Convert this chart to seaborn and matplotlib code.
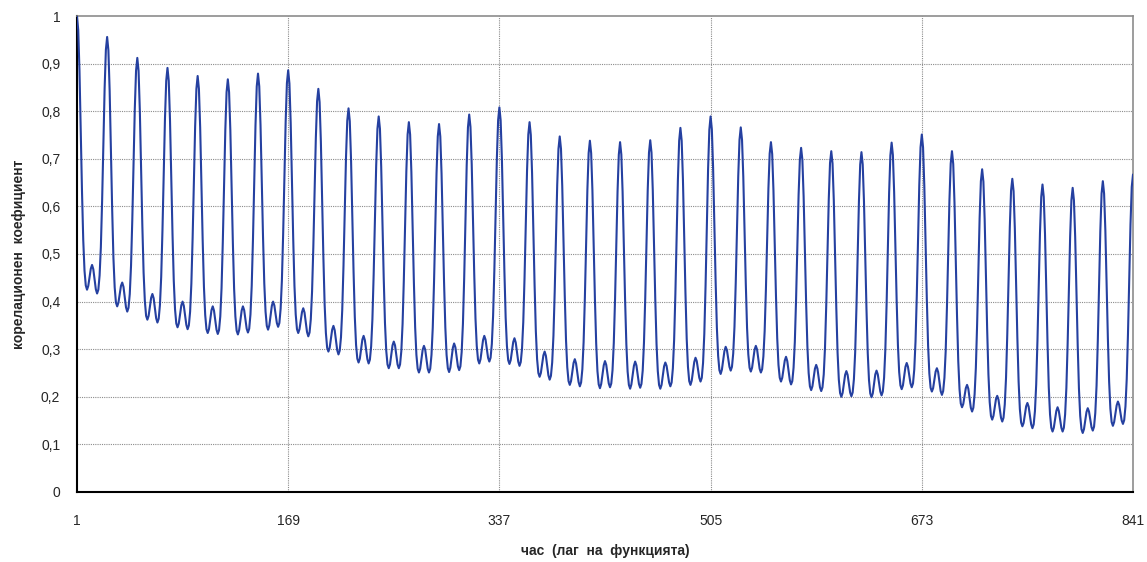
import numpy as np
import pandas as pd
import matplotlib
matplotlib.use("Agg")
import matplotlib.pyplot as plt
import seaborn as sns

# hourly autocorrelation values, one list per week (7 x 24 lags)
week1 = [
    1.000, 0.971, 0.885, 0.759, 0.632, 0.529, 0.465, 0.434, 0.425, 0.433, 0.451, 0.469,
    0.477, 0.468, 0.447, 0.426, 0.417, 0.425, 0.455, 0.514, 0.611, 0.730, 0.848, 0.929,
    0.956, 0.928, 0.843, 0.718, 0.594, 0.492, 0.430, 0.398, 0.390, 0.398, 0.415, 0.433,
    0.440, 0.431, 0.410, 0.388, 0.379, 0.387, 0.416, 0.475, 0.571, 0.688, 0.805, 0.885,
    0.912, 0.885, 0.802, 0.681, 0.560, 0.461, 0.401, 0.370, 0.362, 0.370, 0.389, 0.408,
    0.416, 0.407, 0.386, 0.365, 0.356, 0.364, 0.393, 0.452, 0.549, 0.666, 0.784, 0.864,
    0.891, 0.864, 0.782, 0.662, 0.542, 0.444, 0.384, 0.354, 0.346, 0.354, 0.373, 0.392,
    0.400, 0.391, 0.371, 0.351, 0.342, 0.350, 0.379, 0.438, 0.534, 0.651, 0.768, 0.847,
    0.874, 0.847, 0.766, 0.647, 0.528, 0.431, 0.372, 0.342, 0.334, 0.342, 0.362, 0.382,
    0.390, 0.381, 0.361, 0.341, 0.332, 0.340, 0.369, 0.428, 0.525, 0.642, 0.760, 0.840,
    0.867, 0.840, 0.760, 0.642, 0.524, 0.427, 0.369, 0.339, 0.331, 0.340, 0.361, 0.381,
    0.390, 0.382, 0.363, 0.343, 0.335, 0.343, 0.373, 0.433, 0.531, 0.651, 0.770, 0.852,
    0.879, 0.852, 0.771, 0.653, 0.535, 0.438, 0.379, 0.349, 0.341, 0.350, 0.371, 0.391,
    0.400, 0.392, 0.374, 0.355, 0.347, 0.355, 0.385, 0.444, 0.541, 0.660, 0.778, 0.859,
]
week2 = [
    0.886, 0.858, 0.776, 0.654, 0.533, 0.433, 0.373, 0.342, 0.334, 0.342, 0.360, 0.378,
    0.386, 0.377, 0.357, 0.336, 0.327, 0.335, 0.363, 0.421, 0.514, 0.629, 0.743, 0.821,
    0.847, 0.819, 0.737, 0.615, 0.494, 0.394, 0.334, 0.303, 0.295, 0.303, 0.322, 0.341,
    0.349, 0.340, 0.319, 0.298, 0.289, 0.297, 0.325, 0.382, 0.475, 0.589, 0.703, 0.780,
    0.806, 0.779, 0.699, 0.582, 0.464, 0.368, 0.309, 0.280, 0.272, 0.280, 0.300, 0.320,
    0.328, 0.319, 0.299, 0.279, 0.270, 0.278, 0.306, 0.363, 0.457, 0.571, 0.685, 0.763,
    0.789, 0.763, 0.683, 0.567, 0.450, 0.355, 0.297, 0.268, 0.260, 0.268, 0.288, 0.308,
    0.316, 0.308, 0.288, 0.268, 0.260, 0.268, 0.296, 0.353, 0.446, 0.560, 0.674, 0.751,
    0.777, 0.751, 0.672, 0.556, 0.440, 0.346, 0.288, 0.259, 0.251, 0.259, 0.279, 0.299,
    0.307, 0.299, 0.279, 0.259, 0.251, 0.259, 0.288, 0.345, 0.439, 0.554, 0.669, 0.747,
    0.773, 0.747, 0.669, 0.554, 0.440, 0.346, 0.288, 0.260, 0.252, 0.261, 0.282, 0.303,
    0.312, 0.304, 0.284, 0.264, 0.256, 0.264, 0.294, 0.353, 0.449, 0.567, 0.686, 0.766,
    0.793, 0.767, 0.688, 0.573, 0.458, 0.364, 0.307, 0.278, 0.270, 0.279, 0.299, 0.319,
    0.328, 0.320, 0.301, 0.282, 0.274, 0.282, 0.311, 0.370, 0.466, 0.584, 0.701, 0.781,
]
week3 = [
    0.808, 0.781, 0.700, 0.582, 0.463, 0.366, 0.307, 0.277, 0.269, 0.277, 0.296, 0.315,
    0.323, 0.314, 0.294, 0.274, 0.265, 0.273, 0.301, 0.357, 0.449, 0.562, 0.675, 0.751,
    0.777, 0.750, 0.670, 0.552, 0.435, 0.338, 0.279, 0.250, 0.242, 0.250, 0.269, 0.287,
    0.295, 0.286, 0.266, 0.245, 0.236, 0.244, 0.272, 0.328, 0.420, 0.532, 0.645, 0.721,
    0.747, 0.721, 0.643, 0.528, 0.413, 0.319, 0.262, 0.233, 0.225, 0.233, 0.252, 0.271,
    0.279, 0.270, 0.251, 0.231, 0.222, 0.230, 0.258, 0.315, 0.408, 0.521, 0.635, 0.712,
    0.738, 0.712, 0.634, 0.520, 0.405, 0.312, 0.254, 0.226, 0.218, 0.227, 0.247, 0.266,
    0.275, 0.267, 0.248, 0.228, 0.220, 0.228, 0.256, 0.313, 0.405, 0.519, 0.632, 0.709,
    0.735, 0.709, 0.631, 0.517, 0.403, 0.310, 0.253, 0.225, 0.217, 0.226, 0.246, 0.265,
    0.274, 0.266, 0.247, 0.227, 0.219, 0.227, 0.255, 0.313, 0.406, 0.521, 0.635, 0.713,
    0.739, 0.713, 0.635, 0.520, 0.405, 0.311, 0.254, 0.225, 0.217, 0.225, 0.245, 0.264,
    0.272, 0.265, 0.247, 0.230, 0.222, 0.230, 0.260, 0.320, 0.417, 0.537, 0.656, 0.738,
    0.765, 0.738, 0.657, 0.538, 0.419, 0.322, 0.263, 0.233, 0.225, 0.234, 0.254, 0.273,
    0.282, 0.275, 0.257, 0.240, 0.232, 0.240, 0.271, 0.332, 0.433, 0.555, 0.678, 0.761,
]
week4 = [
    0.789, 0.762, 0.681, 0.562, 0.443, 0.345, 0.286, 0.256, 0.248, 0.257, 0.277, 0.296,
    0.305, 0.298, 0.280, 0.263, 0.255, 0.263, 0.291, 0.347, 0.439, 0.551, 0.664, 0.740,
    0.766, 0.740, 0.663, 0.551, 0.438, 0.345, 0.289, 0.261, 0.253, 0.261, 0.280, 0.299,
    0.307, 0.299, 0.279, 0.259, 0.251, 0.258, 0.285, 0.338, 0.425, 0.532, 0.638, 0.711,
    0.735, 0.710, 0.634, 0.524, 0.413, 0.323, 0.267, 0.240, 0.232, 0.240, 0.258, 0.276,
    0.284, 0.275, 0.255, 0.235, 0.226, 0.233, 0.261, 0.315, 0.405, 0.514, 0.624, 0.698,
    0.723, 0.698, 0.621, 0.509, 0.397, 0.306, 0.250, 0.222, 0.214, 0.222, 0.241, 0.259,
    0.267, 0.259, 0.240, 0.220, 0.212, 0.220, 0.247, 0.303, 0.393, 0.504, 0.615, 0.691,
    0.716, 0.690, 0.613, 0.499, 0.386, 0.293, 0.236, 0.208, 0.200, 0.208, 0.227, 0.246,
    0.254, 0.246, 0.228, 0.209, 0.201, 0.209, 0.237, 0.293, 0.386, 0.499, 0.611, 0.688,
    0.714, 0.688, 0.611, 0.498, 0.384, 0.292, 0.235, 0.207, 0.199, 0.207, 0.227, 0.247,
    0.255, 0.247, 0.229, 0.211, 0.203, 0.211, 0.240, 0.299, 0.394, 0.511, 0.628, 0.707,
    0.734, 0.708, 0.630, 0.516, 0.402, 0.309, 0.252, 0.224, 0.216, 0.224, 0.244, 0.263,
    0.271, 0.263, 0.246, 0.228, 0.220, 0.228, 0.257, 0.316, 0.411, 0.528, 0.645, 0.724,
]
week5 = [
    0.751, 0.724, 0.643, 0.524, 0.405, 0.308, 0.249, 0.219, 0.211, 0.218, 0.236, 0.253,
    0.260, 0.252, 0.232, 0.212, 0.204, 0.212, 0.240, 0.296, 0.388, 0.501, 0.614, 0.690,
    0.716, 0.689, 0.608, 0.490, 0.372, 0.275, 0.216, 0.186, 0.178, 0.185, 0.202, 0.218,
    0.225, 0.217, 0.197, 0.177, 0.169, 0.177, 0.205, 0.261, 0.352, 0.464, 0.576, 0.653,
    0.678, 0.652, 0.573, 0.457, 0.341, 0.247, 0.189, 0.160, 0.152, 0.160, 0.177, 0.195,
    0.202, 0.194, 0.175, 0.156, 0.148, 0.156, 0.184, 0.240, 0.332, 0.444, 0.556, 0.633,
    0.658, 0.632, 0.554, 0.440, 0.325, 0.232, 0.174, 0.146, 0.138, 0.145, 0.163, 0.180,
    0.187, 0.179, 0.161, 0.142, 0.134, 0.142, 0.170, 0.226, 0.318, 0.431, 0.544, 0.620,
    0.646, 0.620, 0.542, 0.428, 0.314, 0.220, 0.163, 0.135, 0.127, 0.135, 0.153, 0.170,
    0.178, 0.170, 0.153, 0.135, 0.127, 0.135, 0.163, 0.219, 0.311, 0.424, 0.537, 0.613,
    0.639, 0.613, 0.536, 0.423, 0.309, 0.217, 0.160, 0.132, 0.124, 0.132, 0.150, 0.168,
    0.176, 0.169, 0.153, 0.136, 0.129, 0.137, 0.166, 0.223, 0.318, 0.433, 0.548, 0.627,
    0.653, 0.627, 0.550, 0.437, 0.324, 0.232, 0.175, 0.147, 0.139, 0.147, 0.165, 0.182,
    0.190, 0.183, 0.167, 0.150, 0.143, 0.151, 0.180, 0.237, 0.332, 0.447, 0.562, 0.641,
]
last_lag = [0.667]

acf = week1 + week2 + week3 + week4 + week5 + last_lag
lags = np.arange(1, len(acf) + 1)
xticks = [1, 169, 337, 505, 673, 841]
yticks = [0, 0.1, 0.2, 0.3, 0.4, 0.5, 0.6, 0.7, 0.8, 0.9, 1.0]

df = pd.DataFrame({"lag": lags, "acf": acf})

sns.set_style("white")
plt.rcParams["font.family"] = ["Liberation Sans", "DejaVu Sans"]

fig = plt.figure(figsize=(11.47, 5.62), dpi=100)
ax = fig.add_axes([0.0671, 0.1246, 0.9207, 0.8469])

# grid first, so the curve sits on top
for v in yticks[1:-1]:
    ax.axhline(v, color="#8c8c8c", lw=0.8, ls=(0, (1, 1)), zorder=1)
for v in xticks[1:-1]:
    ax.axvline(v, color="#8c8c8c", lw=0.8, ls=(0, (1, 1)), zorder=1)

sns.lineplot(data=df, x="lag", y="acf", color="#2540a0", lw=1.5,
             estimator=None, ax=ax, zorder=3)

ax.set_xlim(1, 841)
ax.set_ylim(0, 1)
ax.set_xticks(xticks)
ax.set_xticklabels([str(t) for t in xticks], fontsize=10)
ax.set_yticks(yticks)
ax.set_yticklabels([("%g" % t).replace(".", ",") for t in yticks], fontsize=10)
ax.tick_params(axis="x", direction="out", length=4, width=0.8, color="black", pad=12)
ax.tick_params(axis="y", direction="out", length=4, width=0.8, color="black", pad=8)

for side in ["left", "bottom"]:
    ax.spines[side].set_color("black")
    ax.spines[side].set_linewidth(1.5)
for side in ["top", "right"]:
    ax.spines[side].set_color("#8c8c8c")
    ax.spines[side].set_linewidth(1.2)

ax.set_xlabel("час  (лаг  на  функцията)", fontsize=10, fontweight="bold")
ax.xaxis.set_label_coords(0.5, -0.124)
ax.xaxis.label.set_verticalalignment("center")
ax.set_ylabel("корелационен  коефициент", fontsize=10, fontweight="bold")
ax.yaxis.set_label_coords(-0.055, 0.5)
ax.yaxis.label.set_verticalalignment("center")

fig.savefig("out.png", dpi=100)
